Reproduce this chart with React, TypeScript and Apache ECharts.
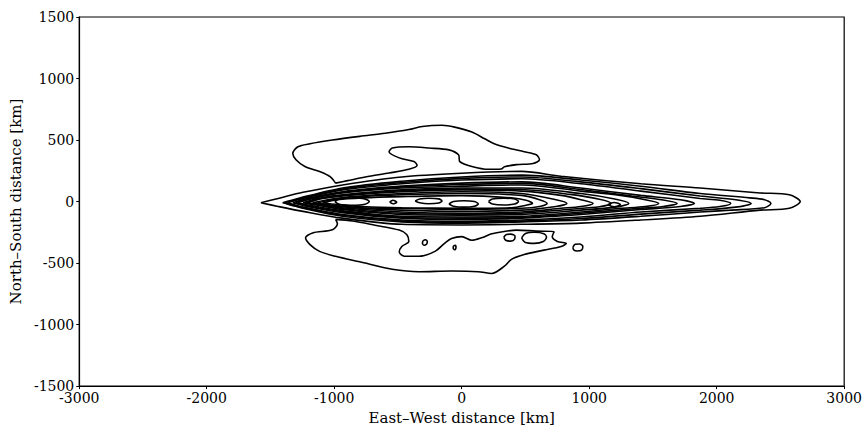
import React, { useEffect, useRef } from 'react';
import * as echarts from 'echarts';

// Axis ticks (km)
const X_TICKS = [-3000, -2000, -1000, 0, 1000, 2000, 3000];
const Y_TICKS = [-1500, -1000, -500, 0, 500, 1000, 1500];

// Contour lines, [East-West km, North-South km], closed loops
const jetLevel1 = [
  [-1575, -10], [-1440, 25], [-1245, 75], [-935, 135], [-470, 200], [0, 230], [470, 245],
  [780, 205], [1405, 145], [1870, 110], [2340, 70], [2570, 55], [2655, 0],
  [2570, -55], [2340, -70], [1870, -120], [1405, -150], [935, -175], [470, -185],
  [0, -190], [-470, -185], [-935, -135], [-1245, -80], [-1440, -40],
];
const jetLevel2 = [
  [-1405, -10], [-1285, 25], [-935, 110], [-470, 165], [0, 200], [470, 215], [935, 175],
  [1405, 125], [1870, 65], [2260, 30], [2375, 15], [2425, -15],
  [2375, -50], [2105, -70], [1870, -85], [1405, -120], [935, -150], [470, -165],
  [0, -175], [-470, -165], [-935, -120], [-1245, -55], [-1325, -30],
];
const jetLevel2b = [
  [-1385, -10], [-1265, 25], [-935, 102], [-470, 155], [0, 188], [470, 200], [935, 160],
  [1405, 105], [1870, 45], [2150, 15], [2270, -15],
  [2150, -45], [1870, -70], [1405, -102], [935, -138], [470, -158],
  [0, -168], [-470, -158], [-935, -112], [-1245, -50], [-1345, -28],
];
const jetLevel3 = [
  [-1365, -10], [-1245, 25], [-935, 95], [-470, 145], [0, 175], [470, 185], [935, 145],
  [1405, 85], [1870, 25], [2025, 10], [2110, -15],
  [2025, -40], [1870, -55], [1405, -85], [935, -125], [470, -150],
  [0, -160], [-470, -150], [-935, -105], [-1245, -45],
];
const jetLevel4 = [
  [-1325, -10], [-1210, 25], [-935, 80], [-470, 125], [0, 150], [470, 160], [935, 110],
  [1405, 50], [1715, 15], [1825, -15],
  [1715, -40], [1405, -65], [935, -105], [470, -135],
  [0, -145], [-470, -135], [-935, -90], [-1210, -40],
];
const jetLevel4b = [
  [-1305, -10], [-1190, 25], [-935, 75], [-470, 118], [0, 138], [470, 148], [935, 98],
  [1330, 45], [1580, 12], [1690, -15],
  [1580, -40], [1330, -60], [935, -95], [470, -128],
  [0, -135], [-470, -128], [-935, -82], [-1190, -38],
];
const jetLevel5 = [
  [-1285, -10], [-1170, 25], [-935, 70], [-470, 110], [0, 125], [470, 135], [935, 85],
  [1245, 50], [1440, 15], [1545, -15],
  [1440, -40], [1245, -55], [935, -85], [470, -120],
  [0, -125], [-470, -120], [-935, -75], [-1170, -35],
];
const jetLevel6 = [
  [-1245, -10], [-1130, 25], [-935, 55], [-470, 95], [0, 110], [470, 110], [935, 65],
  [1200, 20], [1310, -15],
  [1200, -45], [935, -70], [470, -105],
  [0, -110], [-470, -105], [-935, -65], [-1130, -30],
];
const jetLevel6b = [
  [-1228, -10], [-1110, 25], [-915, 52], [-470, 88], [0, 102], [470, 98], [850, 58],
  [1080, 18], [1170, -15],
  [1080, -42], [850, -62], [470, -95],
  [0, -102], [-470, -95], [-915, -60], [-1110, -30],
];
const jetLevel7 = [
  [-1210, -10], [-1090, 25], [-895, 50], [-470, 80], [0, 95], [470, 85], [780, 50],
  [935, 15], [1030, -15],
  [935, -40], [780, -55], [470, -85],
  [0, -95], [-470, -85], [-895, -55], [-1090, -30],
];
const jetLevel8 = [
  [-1170, -10], [-1050, 15], [-855, 40], [-470, 65], [0, 80], [470, 65], [740, 15], [825, -15],
  [740, -40], [470, -70], [0, -80], [-470, -70], [-855, -50], [-1050, -30],
];
const jetLevel9 = [
  [-1130, -10], [-1015, 15], [-780, 40], [-470, 55], [0, 65], [470, 50], [610, 15], [670, -15],
  [610, -40], [470, -55], [0, -65], [-470, -55], [-780, -50], [-1015, -30],
];
const jetLevel10 = [
  [-1090, -10], [-975, 15], [-780, 30], [-470, 40], [0, 48], [390, 30], [505, 10], [555, -15],
  [505, -30], [390, -50], [0, -55], [-470, -50], [-780, -40], [-975, -25],
];

// Innermost core islands
const coreOval1 = [[-995, 0], [-960, 22], [-860, 30], [-760, 22], [-725, 0], [-760, -22], [-860, -30], [-960, -22]];
const coreOval2 = [[-565, -5], [-540, 10], [-510, -5], [-540, -18]];
const coreOval3 = [[-365, 5], [-330, 20], [-260, 27], [-180, 22], [-155, 5], [-180, -12], [-260, -18], [-330, -10]];
const coreOval4 = [[-100, -20], [-65, 0], [15, 7], [100, 0], [130, -20], [100, -38], [15, -45], [-65, -38]];
const coreOval5 = [[210, 0], [240, 20], [330, 27], [415, 20], [445, 0], [415, -20], [330, -28], [240, -20]];
const coreOval6 = [[1145, -25], [1195, -8], [1245, -25], [1195, -42]];

// Outer lobes
const northLobe = [
  [-990, 150], [-1030, 200], [-1105, 240], [-1230, 285], [-1300, 340], [-1325, 390],
  [-1285, 445], [-1190, 470], [-1015, 500], [-800, 530], [-600, 555], [-415, 585],
  [-310, 610], [-155, 620], [-55, 605], [80, 565], [180, 510], [255, 470], [365, 435],
  [490, 405], [585, 380], [610, 340], [560, 310], [430, 300], [335, 282], [310, 265],
  [210, 262], [80, 285], [-15, 325], [-25, 380], [-100, 420], [-255, 435], [-415, 445],
  [-545, 435], [-570, 405], [-490, 355], [-375, 325], [-350, 295], [-415, 262],
  [-570, 232], [-725, 205], [-895, 170],
];
const southLobe = [
  [-990, -145], [-975, -180], [-1015, -230], [-1170, -255], [-1225, -295], [-1190, -350],
  [-1115, -405], [-990, -445], [-800, -490], [-545, -550], [-335, -570], [-80, -565],
  [130, -570], [235, -585], [335, -525], [390, -470], [490, -430], [645, -395],
  [780, -365], [820, -340], [750, -325], [710, -285], [725, -245], [585, -240],
  [430, -232], [310, -247], [235, -262], [155, -295], [80, -315], [0, -285],
  [-80, -300], [-130, -335], [-210, -405], [-335, -445], [-450, -445], [-490, -410],
  [-470, -365], [-415, -325], [-430, -270], [-490, -232], [-680, -192], [-855, -158],
];

// Small closed contours south of the jet
const southIsland1 = [[-305, -320], [-285, -310], [-270, -325], [-275, -345], [-295, -355], [-308, -340]];
const southIsland2 = [[-65, -360], [-50, -355], [-45, -375], [-55, -392], [-67, -380]];
const southIsland3 = [[330, -290], [350, -268], [385, -265], [418, -280], [415, -305], [385, -322], [345, -315]];
const southIsland4 = [[470, -295], [500, -260], [570, -250], [645, -262], [665, -290], [640, -325], [570, -340], [495, -330]];
const southIsland5 = [[872, -373], [890, -348], [925, -345], [950, -365], [940, -395], [905, -402], [878, -392]];

const contours = [
  jetLevel1, jetLevel2, jetLevel2b, jetLevel3, jetLevel4, jetLevel4b, jetLevel5, jetLevel6,
  jetLevel6b, jetLevel7, jetLevel8, jetLevel9, jetLevel10,
  coreOval1, coreOval2, coreOval3, coreOval4, coreOval5, coreOval6,
  northLobe, southLobe, southIsland1, southIsland2, southIsland3, southIsland4, southIsland5,
];

const FONT = '"DejaVu Serif", "Liberation Serif", serif';

export default function App() {
  const ref = useRef<HTMLDivElement>(null);
  useEffect(() => {
    if (!ref.current) return;
    const chart = echarts.init(ref.current, null, { renderer: 'svg' });
    const labelStyle = {
      fontFamily: FONT,
      fontSize: 14,
      lineHeight: 12,
      color: '#000',
      margin: 5,
      formatter: (v: number) => String(v),
    };
    const axisCommon = {
      type: 'value' as const,
      nameLocation: 'middle' as const,
      nameTextStyle: { fontFamily: FONT, fontSize: 15, color: '#000' },
      axisLine: { show: true, onZero: false, lineStyle: { color: '#000', width: 1.2 } },
      axisTick: { show: true, inside: false, length: 3, lineStyle: { color: '#000' } },
      splitLine: { show: false },
    };
    chart.setOption({
      animation: false,
      backgroundColor: '#fff',
      grid: { left: 75, top: 17, width: 770, height: 378, show: true, borderColor: '#000', borderWidth: 1.2 },
      xAxis: {
        ...axisCommon,
        min: X_TICKS[0],
        max: X_TICKS[X_TICKS.length - 1],
        interval: X_TICKS[1] - X_TICKS[0],
        name: 'East–West distance [km]',
        nameGap: 18,
        axisLabel: { ...labelStyle, margin: 6 },
      },
      yAxis: {
        ...axisCommon,
        min: Y_TICKS[0],
        max: Y_TICKS[Y_TICKS.length - 1],
        interval: Y_TICKS[1] - Y_TICKS[0],
        name: 'North–South distance [km]',
        nameGap: 53,
        axisLabel: labelStyle,
      },
      series: contours.map((c) => ({
        type: 'line',
        data: [...c, c[0]],
        showSymbol: false,
        symbol: 'none',
        smooth: 0.3,
        silent: true,
        lineStyle: { color: '#000', width: 1.6 },
      })),
    });
    return () => chart.dispose();
  }, []);
  return <div ref={ref} style={{ position: 'fixed', left: 0, top: 0, width: 865, height: 430 }} />;
}
